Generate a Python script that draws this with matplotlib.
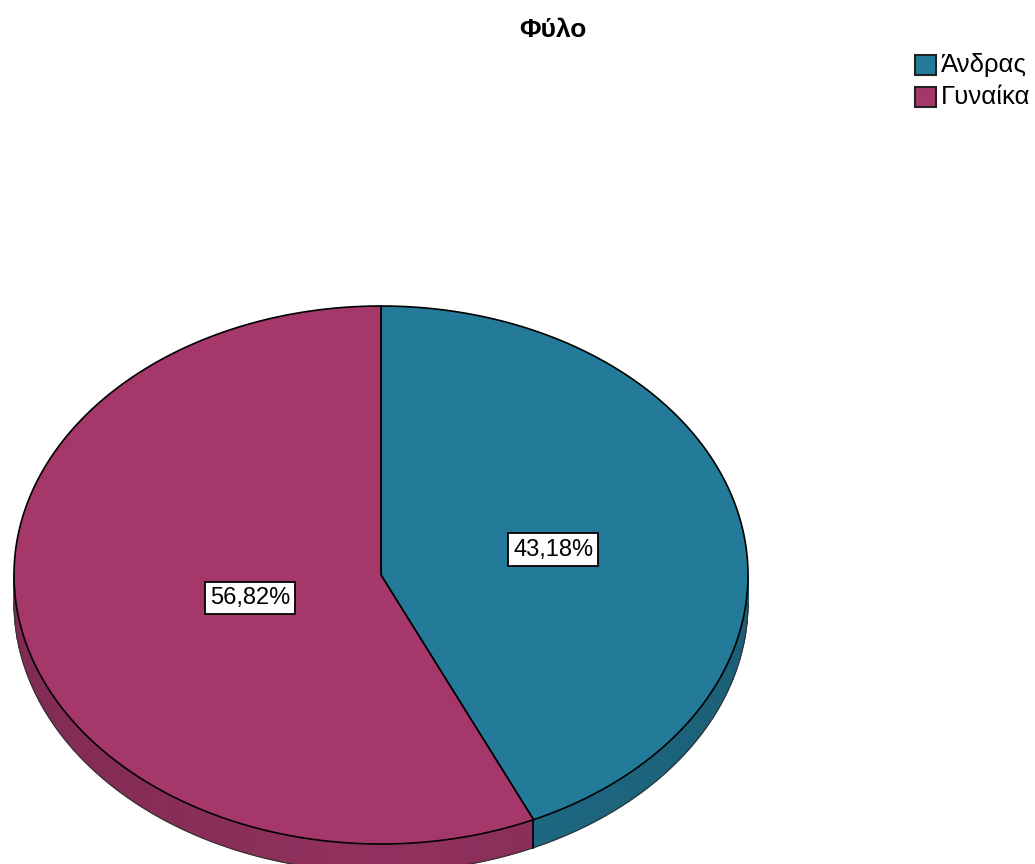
import numpy as np
import matplotlib.pyplot as plt
from matplotlib.patches import Polygon, Rectangle

plt.rcParams['font.family'] = ['Liberation Sans', 'DejaVu Sans']

title = 'Φύλο'
categories = ['Άνδρας', 'Γυναίκα']
percentages = [43.18, 56.82]
colors = ['#237b99', '#a5376b']

W, H = 1035, 864
fig = plt.figure(figsize=(W / 100, H / 100), dpi=100)
ax = fig.add_axes([0, 0, 1, 1])
ax.set_xlim(0, W)
ax.set_ylim(H, 0)
ax.axis('off')

# tilted pie: centre, radii of the top face and thickness of the rim (pixels)
cx, cy, rx, ry, depth = 381, 575, 367, 269, 28


def pt(t, dy=0.0):
    # t measured clockwise from 12 o'clock
    return np.column_stack([cx + rx * np.sin(t), cy - ry * np.cos(t) + dy])


def shade(hexcol, f):
    rgb = np.array(plt.matplotlib.colors.to_rgb(hexcol))
    return tuple(np.clip(rgb * f, 0, 1))


fracs = np.array(percentages) / sum(percentages)
edges = np.concatenate([[0], np.cumsum(fracs)]) * 2 * np.pi

# rim on the front half, shaded a little darker towards the sides
for i, col in enumerate(colors):
    a0 = max(edges[i], np.pi / 2)
    a1 = min(edges[i + 1], 3 * np.pi / 2)
    if a1 <= a0:
        continue
    steps = np.linspace(a0, a1, 60)
    for s0, s1 in zip(steps[:-1], steps[1:]):
        t = np.linspace(s0, s1, 3)
        top = pt(t)
        bot = pt(t[::-1], depth)
        f = 0.88 - 0.10 * abs(np.sin((s0 + s1) / 2))
        c = shade(col, f)
        ax.add_patch(Polygon(np.vstack([top, bot]), closed=True,
                             facecolor=c, edgecolor=c, lw=0.8, zorder=1))
    ax.plot(*pt(np.linspace(a0, a1, 200), depth).T, color='#333333', lw=0.8, zorder=2)

# slice boundary on the rim
for e in edges[1:-1]:
    if np.pi / 2 < e < 3 * np.pi / 2:
        p = pt(np.array([e, e]), np.array([0, depth]))
        ax.plot(p[:, 0], p[:, 1], color='black', lw=1.2, zorder=2)

# top faces
for i, col in enumerate(colors):
    arc = pt(np.linspace(edges[i], edges[i + 1], 300))
    poly = np.vstack([[cx, cy], arc])
    ax.add_patch(Polygon(poly, closed=True, facecolor=col,
                         edgecolor='black', lw=1.2, zorder=3))

# percentage labels at the sector centroids
for i in range(len(categories)):
    half = (edges[i + 1] - edges[i]) / 2
    mid = edges[i] + half
    r = 2 * np.sin(half) / (3 * half)
    x = cx + r * rx * np.sin(mid)
    y = cy - r * ry * np.cos(mid) + 2
    label = f'{percentages[i]:.2f}%'.replace('.', ',')
    ax.text(x, y, label, ha='center', va='center', fontsize=17, zorder=5,
            bbox=dict(boxstyle='square,pad=0.22', facecolor='white',
                      edgecolor='black', lw=1.3))

ax.text(553, 30, title, ha='center', va='center', fontsize=19,
        fontweight='bold', zorder=5)

# legend
for i, (name, col) in enumerate(zip(categories, colors)):
    y0 = 55 + i * 32
    ax.add_patch(Rectangle((915, y0), 21, 20, facecolor=col,
                           edgecolor='#222222', lw=1.5, zorder=5))
    ax.text(941, y0 + 10, name, ha='left', va='center', fontsize=18.5, zorder=5)

fig.savefig('out.png', dpi=100)
